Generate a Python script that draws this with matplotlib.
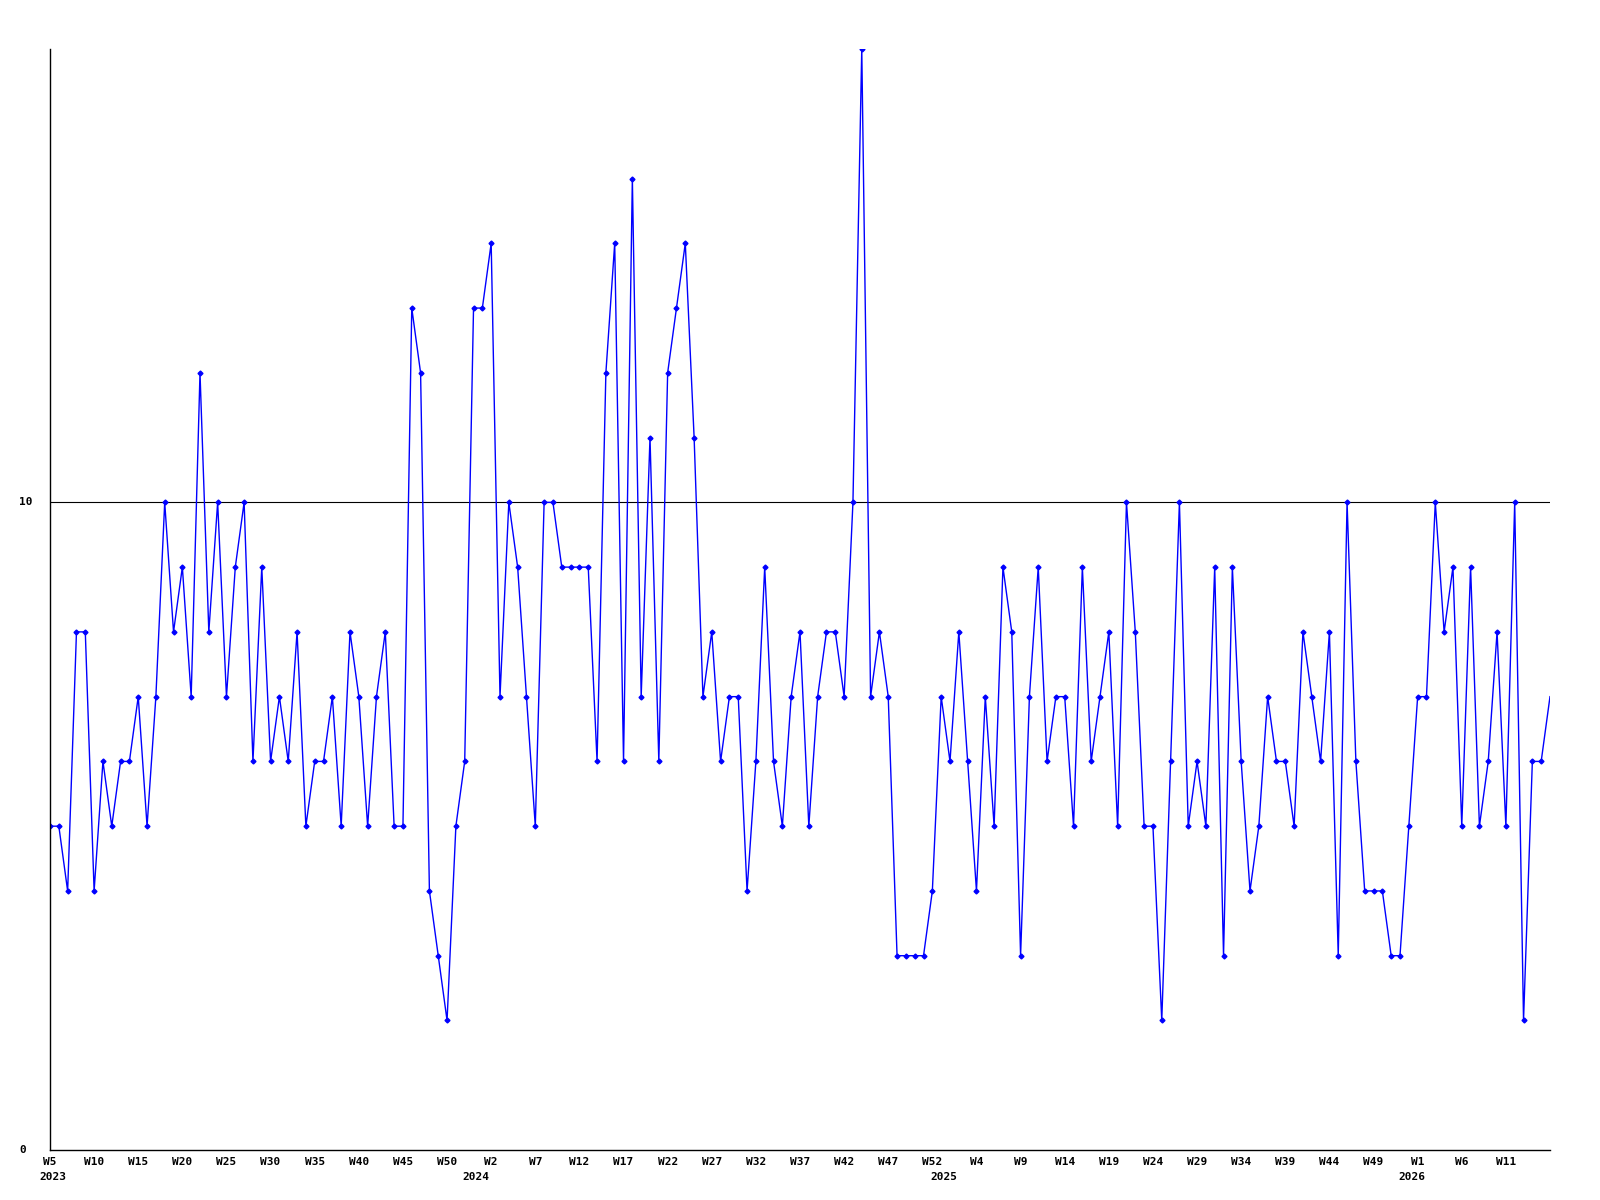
import matplotlib
matplotlib.use("Agg")
import matplotlib.pyplot as plt
from matplotlib.transforms import blended_transform_factory

# ---- data ----
years = [2023, 2024, 2025, 2026]
first_week = [5, 0, 0, 0]
last_week = [52, 52, 52, 16]

values_2023 = [5, 5, 4, 8, 8, 4, 6, 5, 6, 6, 7, 5, 7, 10, 8, 9, 7, 12, 8, 10,
               7, 9, 10, 6, 9, 6, 7, 6, 8, 5, 6, 6, 7, 5, 8, 7, 5, 7, 8, 5,
               5, 13, 12, 4, 3, 2, 5, 6]
values_2024 = [13, 13, 14, 7, 10, 9, 7, 5, 10, 10, 9, 9, 9, 9, 6, 12, 14, 6, 15, 7,
               11, 6, 12, 13, 14, 11, 7, 8, 6, 7, 7, 4, 6, 9, 6, 5, 7, 8, 5, 7,
               8, 8, 7, 10, 17, 7, 8, 7, 3, 3, 3, 3, 4]
values_2025 = [7, 6, 8, 6, 4, 7, 5, 9, 8, 3, 7, 9, 6, 7, 7, 5, 9, 6, 7, 8,
               5, 10, 8, 5, 5, 2, 6, 10, 5, 6, 5, 9, 3, 9, 6, 4, 5, 7, 6, 6,
               5, 8, 7, 6, 8, 3, 10, 6, 4, 4, 4, 3, 3]
values_2026 = [5, 7, 7, 10, 8, 9, 5, 9, 5, 6, 8, 5, 10, 2, 6, 6, 7]

values = values_2023 + values_2024 + values_2025 + values_2026

# category labels (week / year)
week_labels = []
year_of_point = []
for y, w0, w1 in zip(years, first_week, last_week):
    for w in range(w0, w1 + 1):
        week_labels.append(f"W{w}")
        year_of_point.append(y)

y_ticks = [0, 10]
y_tick_labels = ["0", "10"]

# ---- figure ----
W, H = 1600, 1200
fig = plt.figure(figsize=(16, 12), dpi=100)
ax = fig.add_axes([50 / W, 1 - 1150 / H, 1500 / W, (1150 - 49) / H])

n = len(values)
x = list(range(n))
ax.plot(x, values, color="#0000ff", linewidth=1.0, marker="D", markersize=2.5,
        markerfacecolor="#0000ff", markeredgecolor="#0000ff",
        markevery=list(range(n - 1)), clip_on=True)

ax.set_xlim(0, n - 1)
ax.set_ylim(0, 17)

for s in ["top", "right"]:
    ax.spines[s].set_visible(False)
for s in ["left", "bottom"]:
    ax.spines[s].set_color("black")
    ax.spines[s].set_linewidth(1.0)

ax.axhline(10, color="black", linewidth=0.8, zorder=1)

ax.set_xticks([])
ax.set_yticks([])

font = dict(family="DejaVu Sans Mono", fontweight="bold", fontsize=8)

# y labels
ty = blended_transform_factory(fig.transFigure, ax.transData)
for v, lab in zip(y_ticks, y_tick_labels):
    ax.text(19 / W, v, lab, transform=ty, ha="left", va="center", **font)

# x labels: every 5th week (not at the right edge)
tx = blended_transform_factory(ax.transData, fig.transFigure)
for i in range(0, n - 1, 5):
    ax.text(i, 1 - 1157 / H, week_labels[i], transform=tx, ha="center", va="top",
            clip_on=False, **font)

# year labels at first point of each year
seen = set()
for i, yv in enumerate(year_of_point):
    if yv not in seen:
        seen.add(yv)
        ax.text(i + 0.3, 1 - 1172 / H, str(yv), transform=tx, ha="center", va="top",
                clip_on=False, **font)

fig.savefig("out.png", dpi=100)
